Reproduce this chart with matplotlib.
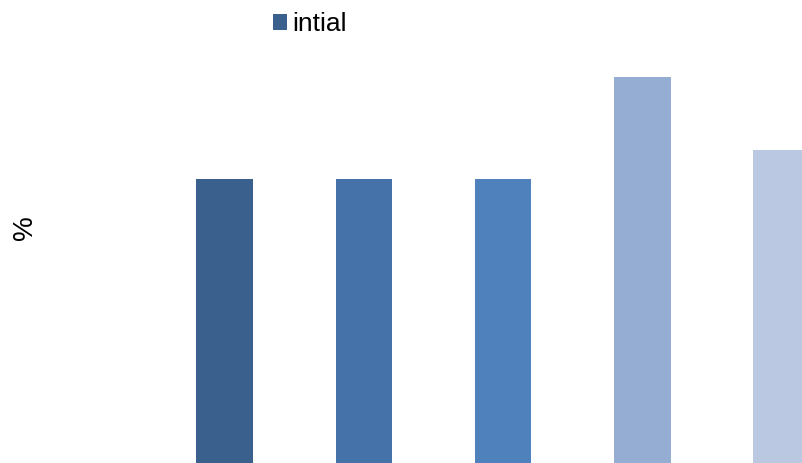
import numpy as np
import matplotlib.pyplot as plt

## Data
categories = ["A", "B", "C", "D", "E"]
values = [10.0, 10.0, 10.0, 13.6, 11.03]
colors = ["#3A618E", "#4573A9", "#4F81BD", "#95ACD3", "#BAC8E2"]
series_label = "intial"

plt.rcParams["font.family"] = ["Liberation Sans", "DejaVu Sans"]

fig = plt.figure(figsize=(8.03, 4.63), dpi=100)
ax = fig.add_axes([0, 0, 1, 1])

x = np.arange(len(categories))
ax.bar(x, values, width=0.405, color=colors, label=series_label)

ax.set_xlim(-1.612, 4.153)
ax.set_ylim(0, 16.30)
ax.axis("off")

## Legend at top
leg = ax.legend(loc="upper left", bbox_to_anchor=(0.31, 1.025), frameon=False,
                fontsize=19, handlelength=0.55, handleheight=0.55, handletextpad=0.2)

## Y label
fig.text(0.031, 0.508, "%", rotation=90, fontsize=20, ha="center", va="center")

fig.savefig("out.png", dpi=100)
